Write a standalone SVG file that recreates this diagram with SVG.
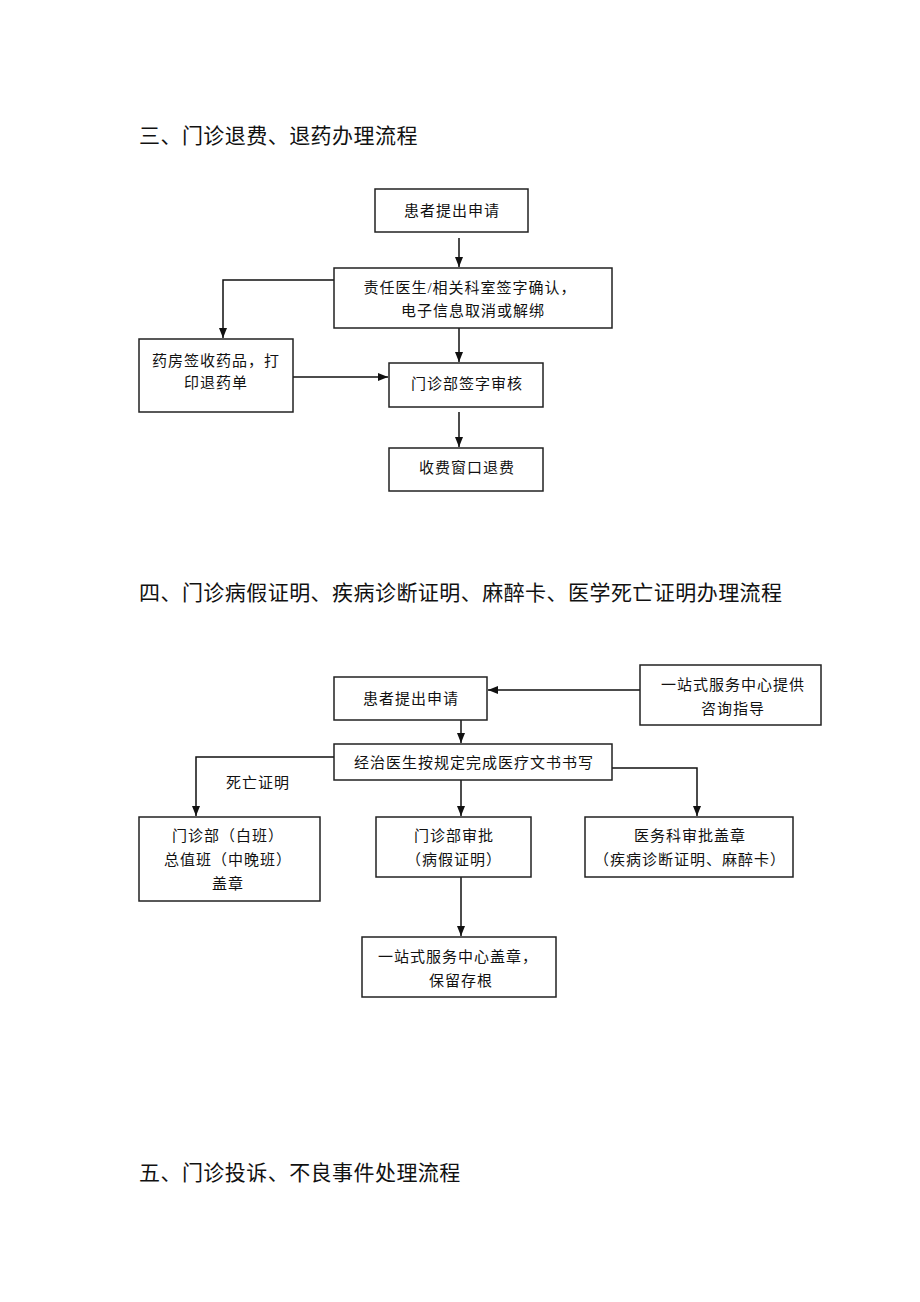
<svg xmlns="http://www.w3.org/2000/svg" width="920" height="1302" viewBox="0 0 920 1302">
<defs>
<marker id="ah" markerWidth="10" markerHeight="8" refX="10" refY="4" orient="auto" markerUnits="userSpaceOnUse">
<path d="M0,0 L10,4 L0,8 Z" fill="#111"/>
</marker>
<style>
.t{font-family:"Liberation Serif","Noto Sans CJK SC",serif;font-size:21px;fill:#111;letter-spacing:0.45px}
.b{fill:#fff;stroke:#222;stroke-width:1.5}
.x{font-family:"Liberation Serif","Noto Sans CJK SC",serif;font-size:15px;fill:#111;text-anchor:middle;letter-spacing:1px}
.c{fill:none;stroke:#111;stroke-width:1.5}
</style>
</defs>
<rect width="920" height="1302" fill="#fff"/>
<text class="t" x="139" y="143">三、门诊退费、退药办理流程</text>
<text class="t" x="139" y="600">四、门诊病假证明、疾病诊断证明、麻醉卡、医学死亡证明办理流程</text>
<text class="t" x="139" y="1180">五、门诊投诉、不良事件处理流程</text>

<g id="connectors">
<path class="c" d="M459,238 V267" marker-end="url(#ah)"/>
<path class="c" d="M334,280 H223 V338" marker-end="url(#ah)"/>
<path class="c" d="M459,328 V362" marker-end="url(#ah)"/>
<path class="c" d="M293,377 H388" marker-end="url(#ah)"/>
<path class="c" d="M459,412 V447" marker-end="url(#ah)"/>
<path class="c" d="M640,690 H488" marker-end="url(#ah)"/>
<path class="c" d="M461,720 V743" marker-end="url(#ah)"/>
<path class="c" d="M334,757 H196 V816" marker-end="url(#ah)"/>
<path class="c" d="M461,780 V816" marker-end="url(#ah)"/>
<path class="c" d="M612,768 H697 V816" marker-end="url(#ah)"/>
<path class="c" d="M461,877 V936" marker-end="url(#ah)"/>
<text class="x" x="258" y="788">死亡证明</text>
</g>

<g id="s3_apply"><rect class="b" x="375" y="189" width="153" height="43"/><text class="x" x="452" y="216">患者提出申请</text></g>
<g id="s3_doctor"><rect class="b" x="334" y="268" width="278" height="60"/><text class="x" x="470" y="293">责任医生/相关科室签字确认，</text><text class="x" x="473" y="316">电子信息取消或解绑</text></g>
<g id="s3_pharmacy"><rect class="b" x="139" y="339" width="154" height="73"/><text class="x" x="216" y="366">药房签收药品，打</text><text class="x" x="216" y="388">印退药单</text></g>
<g id="s3_review"><rect class="b" x="389" y="363" width="154" height="44"/><text class="x" x="467" y="389">门诊部签字审核</text></g>
<g id="s3_refund"><rect class="b" x="389" y="448" width="154" height="43"/><text class="x" x="467" y="473">收费窗口退费</text></g>

<g id="s4_apply"><rect class="b" x="334" y="677" width="153" height="43"/><text class="x" x="411" y="704">患者提出申请</text></g>
<g id="s4_center"><rect class="b" x="640" y="665" width="181" height="60"/><text class="x" x="733" y="690">一站式服务中心提供</text><text class="x" x="733" y="714">咨询指导</text></g>
<g id="s4_doctor"><rect class="b" x="334" y="744" width="278" height="36"/><text class="x" x="474" y="768">经治医生按规定完成医疗文书书写</text></g>
<g id="s4_left"><rect class="b" x="139" y="817" width="181" height="84"/><text class="x" x="228" y="841">门诊部（白班）</text><text class="x" x="228" y="865">总值班（中晚班）</text><text class="x" x="228" y="889">盖章</text></g>
<g id="s4_mid"><rect class="b" x="376" y="817" width="155" height="60"/><text class="x" x="454" y="841">门诊部审批</text><text class="x" x="454" y="865">（病假证明）</text></g>
<g id="s4_right"><rect class="b" x="585" y="817" width="208" height="60"/><text class="x" x="690" y="841">医务科审批盖章</text><text class="x" x="690" y="865">（疾病诊断证明、麻醉卡）</text></g>
<g id="s4_stamp"><rect class="b" x="362" y="937" width="194" height="60"/><text class="x" x="458" y="962">一站式服务中心盖章，</text><text class="x" x="461" y="986">保留存根</text></g>
</svg>
